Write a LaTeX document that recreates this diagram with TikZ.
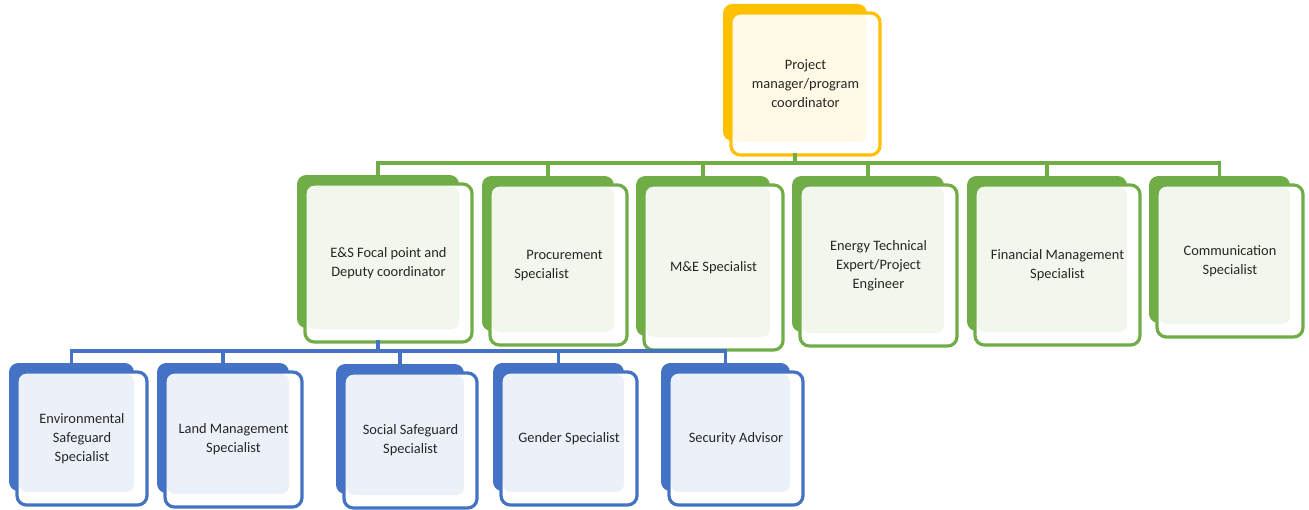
\documentclass[tikz,border=0pt]{standalone}
\usepackage{fontspec}
\setmainfont{Carlito}
\usepackage{tikz}
\definecolor{orgo}{RGB}{255,192,0}
\definecolor{orgg}{RGB}{112,173,71}
\definecolor{orgb}{RGB}{68,114,196}
\tikzstyle{backbox}=[rounded corners=7pt,inner sep=0pt,outer sep=0pt]
\tikzstyle{frontbox}=[rounded corners=7pt,inner sep=0pt,outer sep=0pt,line width=2.4pt,fill=white]
\tikzstyle{cardtext}=[align=center,font=\fontsize{10.8}{14.2}\selectfont,text=black!85]
\tikzstyle{gline}=[orgg,line width=2.4pt,line cap=rect]
\tikzstyle{bline}=[orgb,line width=2.4pt,line cap=rect]
% name, colour, left, top, right, bottom (front box), text
\newcommand{\card}[7]{
  \node[backbox,fill=#2,minimum width={0.75pt*(#5-#3-5)},minimum height={0.75pt*(#6-#4-5)}]
    (#1-b) at ({(#3+#5-21)/2},{(#4+#6-23)/2}) {};
  \node[frontbox,draw=#2,minimum width={0.75pt*(#5-#3)},minimum height={0.75pt*(#6-#4)}]
    (#1) at ({(#3+#5)/2},{(#4+#6)/2}) {};
  \fill[#2!10,rounded corners=6pt] (#3+2,#4+2) rectangle (#5-13,#6-13);
  \node[cardtext] (#1-t) at (#1) {#7};
}

\begin{document}
\begin{tikzpicture}[x=0.75pt,y=-0.75pt]
\useasboundingbox (0,0) rectangle (1309,510);

% top
\card{pm}{orgo}{731}{13}{880}{155}{Project\\manager/program\\coordinator}

% second row
\card{es}{orgg}{305}{184}{472}{342}{E\&S Focal point and\\Deputy coordinator}
\card{pro}{orgg}{490}{185}{627}{345}{\begin{tabular}{@{}l@{}}\hspace*{9pt}Procurement\\Specialist\end{tabular}}
\card{me}{orgg}{644}{185}{783}{350}{M\&E Specialist}
\card{en}{orgg}{800}{185}{957}{346}{Energy Technical\\Expert/Project\\Engineer}
\card{fin}{orgg}{975}{185}{1140}{345}{Financial Management\\Specialist}
\card{com}{orgg}{1157}{185}{1303}{337}{Communication\\Specialist}

% third row
\card{env}{orgb}{17}{372}{147}{505}{Environmental\\Safeguard\\Specialist}
\card{land}{orgb}{165}{372}{302}{507}{Land Management\\Specialist}
\card{soc}{orgb}{344}{373}{477}{508}{Social Safeguard\\Specialist}
\card{gen}{orgb}{501}{372}{637}{505}{Gender Specialist}
\card{sec}{orgb}{669}{372}{803}{505}{Security Advisor}

% connectors
\coordinate (gbus) at (0,163);
\coordinate (bbus) at (0,351);
\draw[gline] (pm-b.south |- pm.south) -- (pm-b.south |- gbus);
\draw[gline] (es-b.north |- gbus) -- (com-b.north |- gbus);
\foreach \n in {es,pro,me,en,fin,com}
  \draw[gline] (\n-b.north |- gbus) -- (\n-b.north);
\draw[bline] (es-b.south |- es.south) -- (es-b.south |- bbus);
\draw[bline] (env-b.north |- bbus) -- (sec-b.north |- bbus);
\foreach \n in {env,land,soc,gen,sec}
  \draw[bline] (\n-b.north |- bbus) -- (\n-b.north);

\end{tikzpicture}
\end{document}
